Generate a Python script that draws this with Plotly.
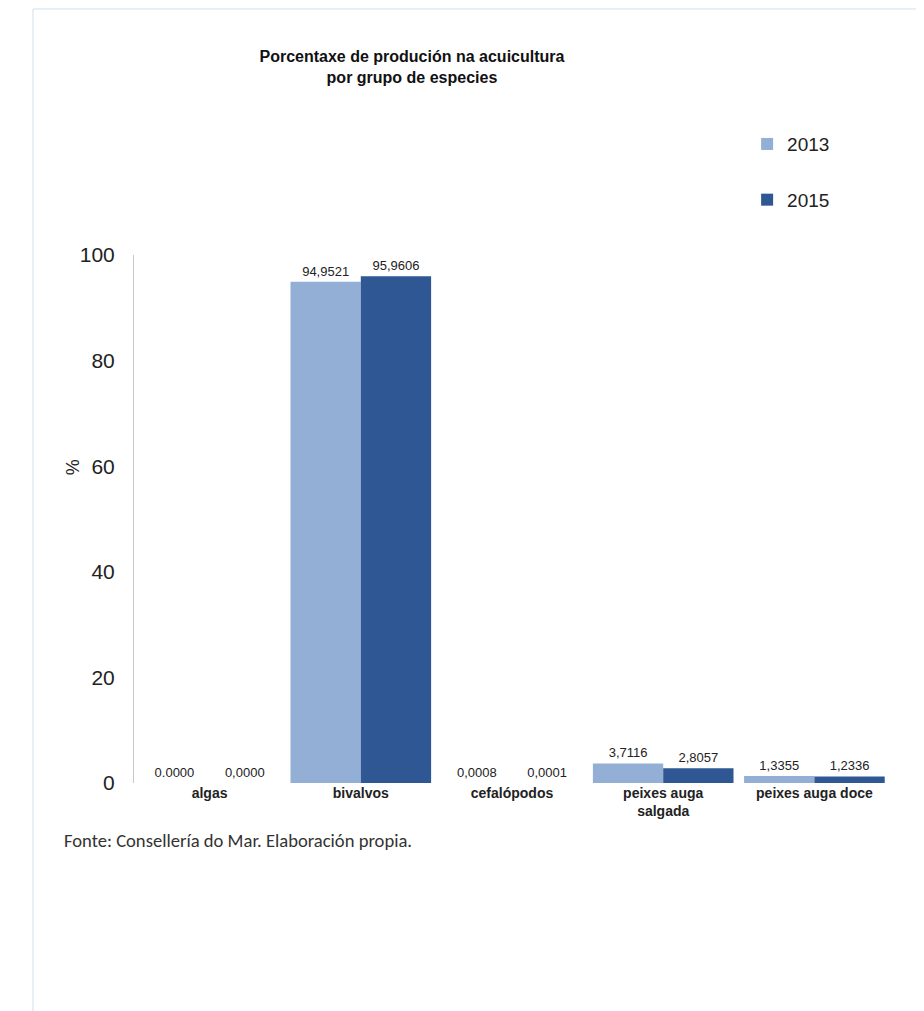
import plotly.graph_objects as go

categories = ["algas", "bivalvos", "cefalópodos", "peixes auga<br>salgada", "peixes auga doce"]
values_2013 = [0.0000, 94.9521, 0.0008, 3.7116, 1.3355]
values_2015 = [0.0000, 95.9606, 0.0001, 2.8057, 1.2336]
labels_2013 = ["0.0000", "94,9521", "0,0008", "3,7116", "1,3355"]
labels_2015 = ["0,0000", "95,9606", "0,0001", "2,8057", "1,2336"]
y_ticks = [0, 20, 40, 60, 80, 100]

col13 = "#93afd6"
col15 = "#2f5793"
narrow = "Liberation Sans Narrow, Arial Narrow, Liberation Sans, Arial"

fig = go.Figure()
fig.add_trace(go.Bar(name="2013", x=categories, y=values_2013, text=labels_2013,
                     marker=dict(color=col13, line=dict(width=0)), legendgroup="a",
                     textposition="outside", cliponaxis=False,
                     textfont=dict(family=narrow, size=13, color="#222")))
fig.add_trace(go.Bar(name="2015", x=categories, y=values_2015, text=labels_2015,
                     marker=dict(color=col15, line=dict(width=0)), legendgroup="b",
                     textposition="outside", cliponaxis=False,
                     textfont=dict(family=narrow, size=13, color="#222")))

fig.update_layout(
    width=916, height=1003,
    margin=dict(l=126, r=34, t=247, b=228),
    paper_bgcolor="white", plot_bgcolor="white",
    barmode="group", bargap=0.07, bargroupgap=0,
    title=dict(text="<b>Porcentaxe de produción na acuicultura<br>por grupo de especies</b>",
               x=0.441, xanchor="center", y=0.946, yanchor="top",
               font=dict(family="Liberation Sans, Arial", size=16, color="#111")),
    legend=dict(x=0.811, y=1.246, xanchor="left", yanchor="top",
                font=dict(family="Liberation Sans, Arial", size=19, color="#222"),
                tracegroupgap=28, itemwidth=30, bgcolor="rgba(0,0,0,0)"),
    showlegend=True,
    font=dict(family="Liberation Sans, Arial", color="#222"),
)
fig.update_yaxes(range=[0, 100], tickvals=y_ticks, showgrid=False, zeroline=False,
                 showline=True, linecolor="#c8c8c8", linewidth=1,
                 ticks="", ticklabelstandoff=14,
                 tickfont=dict(family="Liberation Sans, Arial", size=21, color="#222"))
fig.update_xaxes(showgrid=False, showline=False, ticks="",
                 tickfont=dict(family=narrow, size=14, color="#222"),
                 tickprefix="<b>", ticksuffix="</b>")

fig.add_annotation(text="%", xref="paper", yref="paper", x=-0.0807, y=0.598,
                   xanchor="center", yanchor="middle", textangle=-90, showarrow=False,
                   font=dict(family="Liberation Sans, Arial", size=18, color="#222"))
fig.add_annotation(text="Fonte: Consellería do Mar. Elaboración propia.",
                   xref="paper", yref="paper", x=-0.095, y=-0.108, xanchor="left", yanchor="middle",
                   showarrow=False, font=dict(family="Carlito, Calibri, Liberation Sans", size=18.6, color="#333"))
fig.add_shape(type="rect", xref="paper", yref="paper", x0=-0.1336, x1=1.1, y0=-0.5, y1=1.466,
              line=dict(color="#cfe0f0", width=1), fillcolor="rgba(0,0,0,0)")

fig.write_html("out.html")
